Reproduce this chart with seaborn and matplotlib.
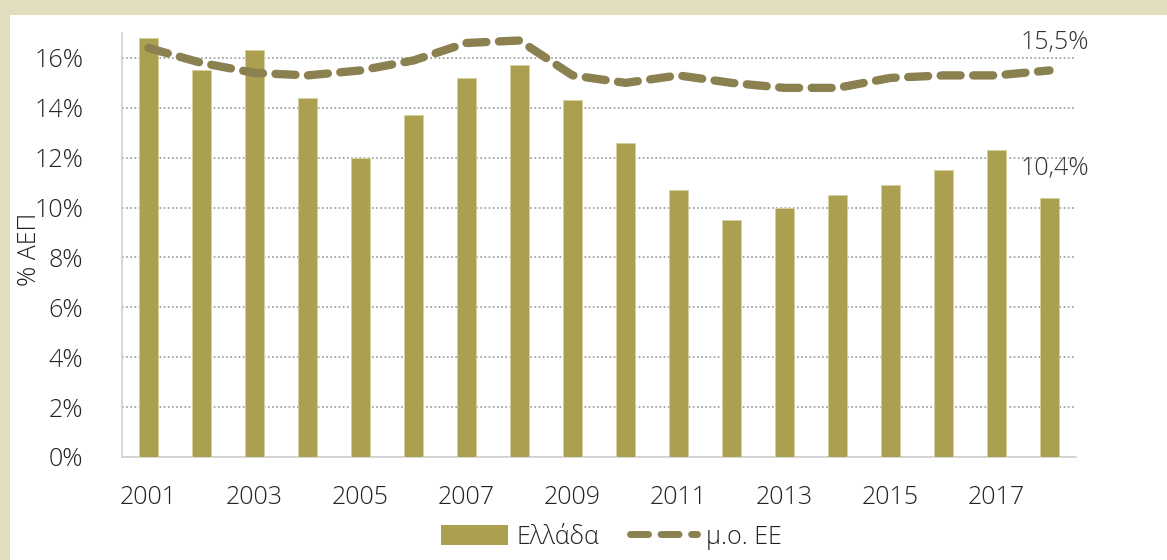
import pandas as pd
import seaborn as sns
import matplotlib.pyplot as plt
from matplotlib.patches import Rectangle
from matplotlib.lines import Line2D
from matplotlib.patches import Patch

years = list(range(2001, 2019))
greece = [16.8, 15.5, 16.3, 14.4, 12.0, 13.7, 15.2, 15.7, 14.3, 12.6,
          10.7, 9.5, 10.0, 10.5, 10.9, 11.5, 12.3, 10.4]
eu_avg = [16.4, 15.8, 15.4, 15.3, 15.5, 15.9, 16.6, 16.7, 15.3, 15.0,
          15.3, 15.0, 14.8, 14.8, 15.2, 15.3, 15.3, 15.5]
tick_years = [str(y) if y % 2 == 1 else '' for y in years]

df = pd.DataFrame({'year': [str(y) for y in years], 'Ελλάδα': greece, 'μ.ο. ΕΕ': eu_avg})

bar_col = '#AB9F50'
line_col = '#8A8050'
beige = '#E1DDBF'

sns.set_style('white')
plt.rcParams['font.family'] = ['Open Sans', 'DejaVu Sans']

fig = plt.figure(figsize=(11.67, 5.6), dpi=100, facecolor=beige)
fig.patches.append(Rectangle((10 / 1167, 0), 1, 1 - 15 / 560, transform=fig.transFigure,
                             facecolor='white', edgecolor='none', zorder=-10))
ax = fig.add_axes([122 / 1167, 103 / 560, (1076 - 122) / 1167, (457 - 33) / 560])
ax.set_facecolor('white')

sns.barplot(ax=ax, data=df, x='year', y='Ελλάδα', color=bar_col, width=0.34,
            saturation=1, edgecolor='#D8D0A0', linewidth=0.6, zorder=3)
sns.lineplot(ax=ax, x=range(len(years)), y=eu_avg, color=line_col, linewidth=6,
             linestyle=(0, (2.4, 1.5)), dash_capstyle='round', zorder=4)

ax.set_xlim(-0.5, len(years) - 0.5)
ax.set_ylim(0, 17)
ax.set_yticks(range(0, 17, 2))
ax.set_yticklabels([f'{v}%' for v in range(0, 17, 2)])
ax.set_xticks(range(len(years)))
ax.set_xticklabels(tick_years)
ax.tick_params(axis='both', labelsize=18, colors='#222222', length=0)
ax.tick_params(axis='y', pad=28)
ax.tick_params(axis='x', pad=20)
for lab in ax.get_xticklabels() + ax.get_yticklabels():
    lab.set_fontweight('light')

ax.yaxis.grid(True, linestyle=(0, (1, 1.5)), color='#999999', linewidth=1.2, zorder=1)
ax.set_axisbelow(True)
for s in ['top', 'right']:
    ax.spines[s].set_visible(False)
for s in ['left', 'bottom']:
    ax.spines[s].set_color('#D0D0D0')
    ax.spines[s].set_linewidth(1.2)

ax.set_xlabel('')
ax.set_ylabel('% ΑΕΠ', fontsize=18, fontweight='light', color='#222222')
ax.yaxis.set_label_coords(-0.084, 0.49)

ax.text(len(years) - 1 + 0.75, eu_avg[-1] + 0.6, '15,5%', ha='right', va='bottom',
        fontsize=18, fontweight='light', color='#333333')
ax.text(len(years) - 1 + 0.75, greece[-1] + 0.65, '10,4%', ha='right', va='bottom',
        fontsize=18, fontweight='light', color='#333333')

handles = [Patch(facecolor=bar_col, edgecolor='none'),
           Line2D([0], [0], color=line_col, linewidth=5, linestyle=(0, (2.6, 1.8)),
                  dash_capstyle='round')]
leg = fig.legend(handles, ['Ελλάδα', 'μ.ο. ΕΕ'], loc='center', bbox_to_anchor=(0.5236, 0.041),
                 ncol=2, frameon=False, fontsize=18, handlelength=2.7, handleheight=0.9,
                 columnspacing=1.2, handletextpad=0.35)
for t in leg.get_texts():
    t.set_fontweight('light')
    t.set_color('#222222')

fig.savefig('out.png', dpi=100, facecolor=beige)
